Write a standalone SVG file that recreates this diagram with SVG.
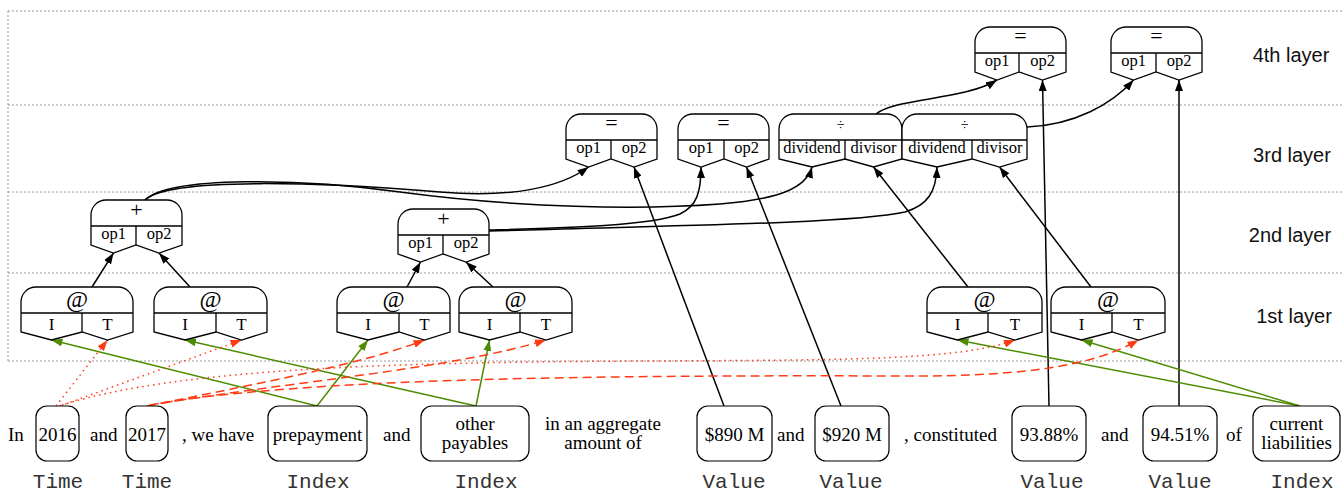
<svg xmlns="http://www.w3.org/2000/svg" width="1343" height="493" viewBox="0 0 1343 493">
<style>
.frame{stroke:#9a9a9a;stroke-width:1;stroke-dasharray:2,2;fill:none}
.rec{fill:#fff;stroke:#000;stroke-width:1.3}
.sym{font-family:"Liberation Serif","Times New Roman",serif;font-size:22px;text-anchor:middle;fill:#000}
.at{font-size:24px}
.div{font-size:14px}
.fld{font-family:"Liberation Serif","Times New Roman",serif;font-size:16.5px;text-anchor:middle;fill:#000}
.it{font-size:17px}
.tok{fill:#fff;stroke:#000;stroke-width:1.2}
.word{font-family:"Liberation Serif","Times New Roman",serif;font-size:19px;fill:#000}
.mid{text-anchor:middle}
.type{font-family:"Liberation Mono","Courier New",monospace;font-size:21px;text-anchor:middle;fill:#333}
.layer{font-family:"Liberation Sans",Arial,sans-serif;font-size:20px;text-anchor:middle;fill:#111}
.e{fill:none;stroke:#000;stroke-width:1.5;marker-end:url(#ab)}
.g{fill:none;stroke:#4d8c00;stroke-width:1.5;marker-end:url(#ag)}
.rdot{fill:none;stroke:#ff3b14;stroke-width:1.5;stroke-dasharray:1.5,4;marker-end:url(#ar)}
.rdash{fill:none;stroke:#ff3b14;stroke-width:1.5;stroke-dasharray:9,5;marker-end:url(#ar)}
</style>
<defs>
<marker id="ab" viewBox="0 0 11 8" refX="11" refY="4" markerWidth="11" markerHeight="8" markerUnits="userSpaceOnUse" orient="auto"><path d="M0,0 L11,4 L0,8 Z" fill="#000" stroke="none"/></marker>
<marker id="ag" viewBox="0 0 11 8" refX="11" refY="4" markerWidth="11" markerHeight="8" markerUnits="userSpaceOnUse" orient="auto"><path d="M0,0 L11,4 L0,8 Z" fill="#4d8c00" stroke="none"/></marker>
<marker id="ar" viewBox="0 0 11 8" refX="11" refY="4" markerWidth="11" markerHeight="8" markerUnits="userSpaceOnUse" orient="auto"><path d="M0,0 L11,4 L0,8 Z" fill="#ff3b14" stroke="none"/></marker>
</defs>

<g id="layers">
<path class="frame" d="M8,11 H1343 M8,105 H1343 M8,192 H1343 M8,273 H1343 M8,361 H1343 M8,11 V361"/>
<text class="layer" x="1291" y="62">4th layer</text>
<text class="layer" x="1292" y="162">3rd layer</text>
<text class="layer" x="1290" y="242">2nd layer</text>
<text class="layer" x="1294" y="323">1st layer</text>
</g>

<g id="connectors">
<path class="e" d="M92,287 L113.5,253"/>
<path class="e" d="M190,287 L159,253"/>
<path class="e" d="M407,287 L420.5,262"/>
<path class="e" d="M493,287 L466,262"/>
<path class="e" d="M145,200 C170,176 330,183 440,192 C510,198 560,188 588.5,167"/>
<path class="e" d="M145,200 C170,176 300,178 400,192 C520,208 640,210 720,204 C780,199 806,188 812,167"/>
<path class="e" d="M489,230 C560,228 650,226 680,214 C697,206 701,192 701,167"/>
<path class="e" d="M489,231 C650,226 850,224 905,212 C928,205 936,192 937,167"/>
<path class="e" d="M724,406 L634,167"/>
<path class="e" d="M841,406 L746.5,167"/>
<path class="e" d="M1049,406 L1042.5,80"/>
<path class="e" d="M1179,406 L1179,80"/>
<path class="e" d="M968,287 L873.5,167"/>
<path class="e" d="M1091,287 L999.5,167"/>
<path class="e" d="M876,114 C895,98 965,100 997,80"/>
<path class="e" d="M1027,127 C1075,125 1112,104 1133.5,80"/>
<path class="g" d="M317,406 L51.5,340"/>
<path class="g" d="M317,406 L368,340"/>
<path class="g" d="M476,406 L185,340"/>
<path class="g" d="M476,406 L489.5,340"/>
<path class="g" d="M1300,406 L957.5,340"/>
<path class="g" d="M1300,406 L1081.5,340"/>
<path class="rdot" d="M56,406 L107.5,340"/>
<path class="rdot" d="M60,406 L241.5,340"/>
<path class="rdot" d="M62,405 C180,368 400,362 650,361 C850,360 960,360 1015,340"/>
<path class="rdash" d="M147,406 C250,385 360,365 424.5,340"/>
<path class="rdash" d="M147,406 C260,385 450,370 546,340"/>
<path class="rdash" d="M150,405 C300,378 600,375 900,376 C1040,377 1100,362 1138.5,340"/>
</g>

<g id="n-at1"><path class="rec" d="M21,332 V302 A15,15 0 0 1 36,287 H118 A15,15 0 0 1 133,302 V332 L107.5,340 L82,332 L51.5,340 Z M21,313 H133 M82,313 V332"/><text class="sym at" x="77" y="307">@</text><text class="fld it" x="51.5" y="330">I</text><text class="fld it" x="107.5" y="330">T</text></g>
<g id="n-at2"><path class="rec" d="M154,332 V302 A15,15 0 0 1 169,287 H252 A15,15 0 0 1 267,302 V332 L241.5,340 L216,332 L185,340 Z M154,313 H267 M216,313 V332"/><text class="sym at" x="210.5" y="307">@</text><text class="fld it" x="185" y="330">I</text><text class="fld it" x="241.5" y="330">T</text></g>
<g id="n-at3"><path class="rec" d="M337,332 V302 A15,15 0 0 1 352,287 H435 A15,15 0 0 1 450,302 V332 L424.5,340 L399,332 L368,340 Z M337,313 H450 M399,313 V332"/><text class="sym at" x="393.5" y="307">@</text><text class="fld it" x="368" y="330">I</text><text class="fld it" x="424.5" y="330">T</text></g>
<g id="n-at4"><path class="rec" d="M459,332 V302 A15,15 0 0 1 474,287 H557 A15,15 0 0 1 572,302 V332 L546,340 L520,332 L489.5,340 Z M459,313 H572 M520,313 V332"/><text class="sym at" x="515.5" y="307">@</text><text class="fld it" x="489.5" y="330">I</text><text class="fld it" x="546" y="330">T</text></g>
<g id="n-at5"><path class="rec" d="M927,332 V302 A15,15 0 0 1 942,287 H1027 A15,15 0 0 1 1042,302 V332 L1015,340 L988,332 L957.5,340 Z M927,313 H1042 M988,313 V332"/><text class="sym at" x="984.5" y="307">@</text><text class="fld it" x="957.5" y="330">I</text><text class="fld it" x="1015" y="330">T</text></g>
<g id="n-at6"><path class="rec" d="M1051,332 V302 A15,15 0 0 1 1066,287 H1150 A15,15 0 0 1 1165,302 V332 L1138.5,340 L1112,332 L1081.5,340 Z M1051,313 H1165 M1112,313 V332"/><text class="sym at" x="1108" y="307">@</text><text class="fld it" x="1081.5" y="330">I</text><text class="fld it" x="1138.5" y="330">T</text></g>

<g id="n-plus1"><path class="rec" d="M91,245 V215 A15,15 0 0 1 106,200 H167 A15,15 0 0 1 182,215 V245 L159,253 L136,245 L113.5,253 Z M91,226 H182 M136,226 V245"/><text class="sym" x="136.5" y="217">+</text><text class="fld" x="113.5" y="239">op1</text><text class="fld" x="159" y="239">op2</text></g>
<g id="n-plus2"><path class="rec" d="M398,254 V224 A15,15 0 0 1 413,209 H474 A15,15 0 0 1 489,224 V254 L466,262 L443,254 L420.5,262 Z M398,235 H489 M443,235 V254"/><text class="sym" x="443.5" y="226">+</text><text class="fld" x="420.5" y="248">op1</text><text class="fld" x="466" y="248">op2</text></g>

<g id="n-eq1"><path class="rec" d="M566,159 V129 A15,15 0 0 1 581,114 H642 A15,15 0 0 1 657,129 V159 L634,167 L611,159 L588.5,167 Z M566,140 H657 M611,140 V159"/><text class="sym" x="611.5" y="130">=</text><text class="fld" x="588.5" y="153">op1</text><text class="fld" x="634" y="153">op2</text></g>
<g id="n-eq2"><path class="rec" d="M678,159 V129 A15,15 0 0 1 693,114 H754 A15,15 0 0 1 769,129 V159 L746.5,167 L724,159 L701,167 Z M678,140 H769 M724,140 V159"/><text class="sym" x="723.5" y="130">=</text><text class="fld" x="701" y="153">op1</text><text class="fld" x="746.5" y="153">op2</text></g>
<g id="n-div1"><path class="rec" d="M779,159 V129 A15,15 0 0 1 794,114 H887 A15,15 0 0 1 902,129 V159 L873.5,167 L845,159 L812,167 Z M779,140 H902 M845,140 V159"/><text class="sym div" x="840.5" y="130">÷</text><text class="fld" x="812" y="153">dividend</text><text class="fld" x="873.5" y="153">divisor</text></g>
<g id="n-div2"><path class="rec" d="M902,159 V129 A15,15 0 0 1 917,114 H1012 A15,15 0 0 1 1027,129 V159 L999.5,167 L972,159 L937,167 Z M902,140 H1027 M972,140 V159"/><text class="sym div" x="964.5" y="130">÷</text><text class="fld" x="937" y="153">dividend</text><text class="fld" x="999.5" y="153">divisor</text></g>

<g id="n-eq3"><path class="rec" d="M975,72 V42 A15,15 0 0 1 990,27 H1051 A15,15 0 0 1 1066,42 V72 L1042.5,80 L1019,72 L997,80 Z M975,53 H1066 M1019,53 V72"/><text class="sym" x="1020.5" y="43">=</text><text class="fld" x="997" y="66">op1</text><text class="fld" x="1042.5" y="66">op2</text></g>
<g id="n-eq4"><path class="rec" d="M1111,72 V42 A15,15 0 0 1 1126,27 H1187 A15,15 0 0 1 1202,42 V72 L1179,80 L1156,72 L1133.5,80 Z M1111,53 H1202 M1156,53 V72"/><text class="sym" x="1156.5" y="43">=</text><text class="fld" x="1133.5" y="66">op1</text><text class="fld" x="1179" y="66">op2</text></g>

<g id="sentence">
<text class="word" x="8" y="441">In</text>
<text class="word" x="90" y="441">and</text>
<text class="word" x="182" y="441">, we have</text>
<text class="word" x="383" y="441">and</text>
<text class="word mid" x="603" y="430">in an aggregate</text>
<text class="word mid" x="603" y="449">amount of</text>
<text class="word" x="777" y="441">and</text>
<text class="word" x="904" y="441">, constituted</text>
<text class="word" x="1101" y="441">and</text>
<text class="word" x="1226" y="441">of</text>
</g>

<g id="t-2016"><rect class="tok" x="36" y="406" width="43" height="55" rx="11"/><text class="word mid" x="57.5" y="441">2016</text><text class="type" x="58" y="488">Time</text></g>
<g id="t-2017"><rect class="tok" x="126" y="406" width="42" height="55" rx="11"/><text class="word mid" x="147" y="441">2017</text><text class="type" x="147" y="488">Time</text></g>
<g id="t-prepayment"><rect class="tok" x="268" y="406" width="99" height="55" rx="11"/><text class="word mid" x="317.5" y="441">prepayment</text><text class="type" x="318" y="488">Index</text></g>
<g id="t-otherpayables"><rect class="tok" x="421" y="406" width="108" height="55" rx="11"/><text class="word mid" x="475" y="430">other</text><text class="word mid" x="475" y="449">payables</text><text class="type" x="486" y="488">Index</text></g>
<g id="t-890"><rect class="tok" x="697" y="406" width="75" height="55" rx="11"/><text class="word mid" x="734.5" y="441">$890 M</text><text class="type" x="734" y="488">Value</text></g>
<g id="t-920"><rect class="tok" x="815" y="406" width="74" height="55" rx="11"/><text class="word mid" x="852" y="441">$920 M</text><text class="type" x="851" y="488">Value</text></g>
<g id="t-9388"><rect class="tok" x="1012" y="406" width="74" height="55" rx="11"/><text class="word mid" x="1049" y="441">93.88%</text><text class="type" x="1052" y="488">Value</text></g>
<g id="t-9451"><rect class="tok" x="1143" y="406" width="74" height="55" rx="11"/><text class="word mid" x="1180" y="441">94.51%</text><text class="type" x="1180" y="488">Value</text></g>
<g id="t-currentliabilities"><rect class="tok" x="1253" y="406" width="87" height="55" rx="11"/><text class="word mid" x="1296.5" y="430">current</text><text class="word mid" x="1296.5" y="449">liabilities</text><text class="type" x="1302" y="488">Index</text></g>
</svg>
